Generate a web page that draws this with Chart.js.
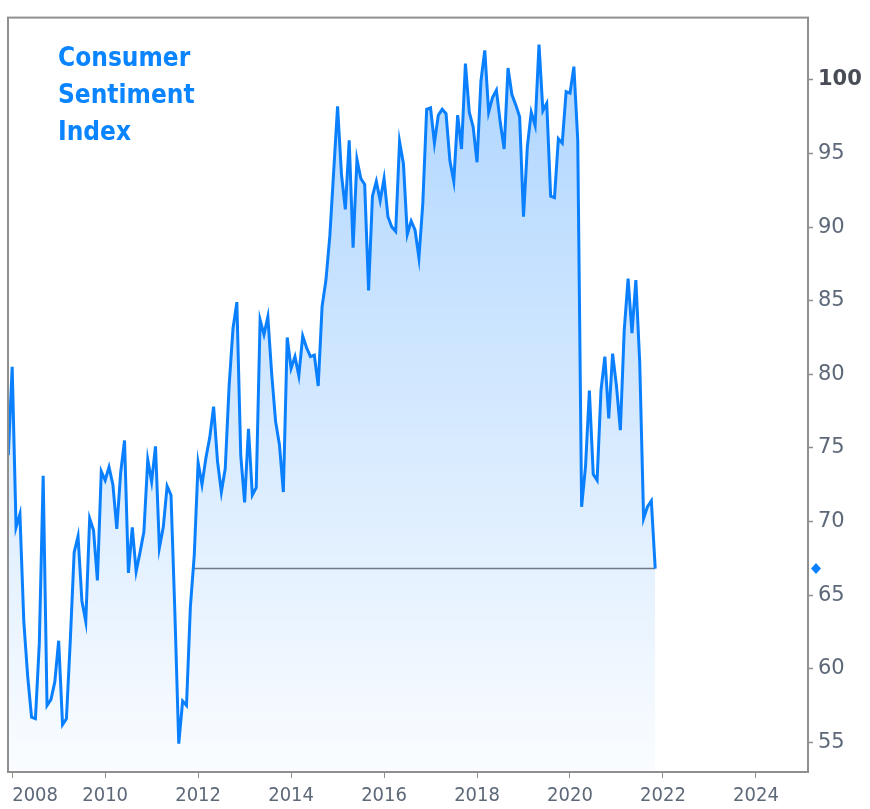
<!DOCTYPE html>
<html lang="en">
<head>
  <meta charset="UTF-8" />
  <title>Consumer Sentiment Index</title>
  <script src="https://cdn.jsdelivr.net/npm/chart.js"></script>
  <style>
    body {
      margin: 0;
      background: #ffffff;
    }

    .wrap {
      position: relative;
      width: 870px;
      height: 809px;
    }

    .title {
      position: absolute;
      left: 58px;
      top: 39px;
      color: #0a84ff;
      font: bold 26px/37px 'DejaVu Sans Condensed', 'DejaVu Sans', sans-serif;
    }
  </style>
</head>
<body>

  <div class="wrap">
    <canvas id="sentimentChart" width="870" height="809"></canvas>
    <div class="title">Consumer<br>Sentiment<br>Index</div>
  </div>

  <script>
    // monthly preliminary readings, Dec 2007 .. Nov 2021
    const firstMonth = { year: 2007, month: 12 };
    const sentiment = [
      74.5,
      80.5, 69.6, 70.5, 63.2, 59.5, 56.7, 56.6, 61.7, 73.1, 57.5, 57.9, 59.1,   // 2008
      61.9, 56.2, 56.6, 61.9, 67.9, 69.0, 64.6, 63.2, 70.2, 69.4, 66.0, 73.4,   // 2009
      72.8, 73.7, 72.5, 69.5, 73.3, 75.5, 66.5, 69.6, 66.6, 67.9, 69.3, 74.2,   // 2010
      72.7, 75.1, 68.2, 69.6, 72.4, 71.8, 63.8, 54.9, 57.8, 57.5, 64.2, 67.7,   // 2011
      74.0, 72.5, 74.3, 75.7, 77.8, 74.1, 72.0, 73.6, 79.2, 83.1, 84.9, 74.5,   // 2012
      71.3, 76.3, 71.8, 72.3, 83.7, 82.7, 83.9, 80.0, 76.8, 75.2, 72.0, 82.5,   // 2013
      80.4, 81.2, 79.9, 82.6, 81.8, 81.2, 81.3, 79.2, 84.6, 86.4, 89.4, 93.8,   // 2014
      98.2, 93.6, 91.2, 95.9, 88.6, 94.6, 93.3, 92.9, 85.7, 92.1, 93.1, 91.8,   // 2015
      93.3, 90.7, 90.0, 89.7, 95.8, 94.3, 89.5, 90.4, 89.8, 87.9, 91.6, 98.0,   // 2016
      98.1, 95.7, 97.6, 98.0, 97.7, 94.5, 93.1, 97.6, 95.3, 101.1, 97.8, 96.8,  // 2017
      94.4, 99.9, 102.0, 97.8, 98.8, 99.3, 97.1, 95.3, 100.8, 99.0, 98.3, 97.5, // 2018
      90.7, 95.5, 97.8, 96.9, 102.4, 97.9, 98.4, 92.1, 92.0, 96.0, 95.7, 99.2,  // 2019
      99.1, 100.9, 95.9, 71.0, 73.7, 78.9, 73.2, 72.8, 78.9, 81.2, 77.0, 81.4,  // 2020
      79.2, 76.2, 83.0, 86.5, 82.8, 86.4, 80.8, 70.2, 71.0, 71.4, 66.8          // 2021
    ];

    const yearTicks = [2008, 2010, 2012, 2014, 2016, 2018, 2020, 2022, 2024];
    const valueTicks = [55, 60, 65, 70, 75, 80, 85, 90, 95, 100];

    const xMin = 2007.91;
    const xMax = 2025.12;
    const yMin = 52.98;
    const yMax = 104.23;

    const lineBlue = '#0a80ff';
    const frameGrey = '#8f8f8f';
    const labelGrey = '#5d6878';

    const points = sentiment.map((v, i) => ({
      x: firstMonth.year + (firstMonth.month - 1 + i) / 12,
      y: v
    }));

    // flat reference line at the latest reading, back to where the index last crossed it
    const last = points[points.length - 1];
    let j = points.length - 2;
    while (j > 0 && points[j].y >= last.y) j--;
    const a = points[j], b = points[j + 1];
    const crossX = a.x + (last.y - a.y) / (b.y - a.y) * (b.x - a.x);
    const refLine = [{ x: crossX, y: last.y }, { x: last.x, y: last.y }];

    const framePlugin = {
      id: 'frame',
      afterDraw(chart) {
        const { ctx, chartArea } = chart;
        ctx.save();
        ctx.strokeStyle = frameGrey;
        ctx.lineWidth = 2;
        ctx.strokeRect(chartArea.left, chartArea.top,
          chartArea.right - chartArea.left, chartArea.bottom - chartArea.top);

        // diamond marker for the latest value on the right axis
        const y = chart.scales.y.getPixelForValue(last.y);
        const x = chartArea.right + 8;
        ctx.fillStyle = lineBlue;
        ctx.beginPath();
        ctx.moveTo(x, y - 5.5);
        ctx.lineTo(x + 5, y);
        ctx.lineTo(x, y + 5.5);
        ctx.lineTo(x - 5, y);
        ctx.closePath();
        ctx.fill();
        ctx.restore();
      }
    };

    new Chart(document.getElementById('sentimentChart'), {
      type: 'line',
      data: {
        datasets: [{
          label: 'Consumer Sentiment Index',
          data: points,
          borderColor: lineBlue,
          borderWidth: 3,
          pointRadius: 0,
          tension: 0,
          fill: 'start',
          backgroundColor: function(context) {
            const { chart } = context;
            const area = chart.chartArea;
            if (!area) return 'rgba(10,128,255,0.15)';
            const g = chart.ctx.createLinearGradient(0, area.top, 0, area.bottom);
            g.addColorStop(0, 'rgba(10,128,255,0.34)');
            g.addColorStop(1, 'rgba(10,128,255,0.02)');
            return g;
          }
        }, {
          label: 'Latest',
          data: refLine,
          borderColor: '#7a7a7a',
          borderWidth: 1.5,
          pointRadius: 0,
          fill: false
        }]
      },
      options: {
        responsive: false,
        animation: false,
        devicePixelRatio: 1,
        layout: {
          padding: { left: 8, top: 8 }
        },
        plugins: {
          legend: { display: false },
          tooltip: { enabled: false }
        },
        scales: {
          x: {
            type: 'linear',
            min: xMin,
            max: xMax,
            afterBuildTicks: function(scale) {
              scale.ticks = yearTicks.concat([xMax]).map(v => ({ value: v }));
            },
            afterFit: function(scale) {
              scale.height = 37;
              scale.paddingLeft = 0;
              scale.paddingRight = 0;
            },
            border: { display: false },
            grid: {
              drawOnChartArea: false,
              drawTicks: true,
              tickLength: 9,
              tickWidth: 1,
              tickBorderDash: [6, 100],
              tickColor: function(c) {
                return c.tick && c.tick.value === xMax ? 'rgba(0,0,0,0)' : frameGrey;
              }
            },
            ticks: {
              autoSkip: false,
              maxRotation: 0,
              align: 'inner',
              padding: 3,
              color: labelGrey,
              font: { family: "'DejaVu Sans Condensed', 'DejaVu Sans', sans-serif", size: 20 },
              callback: function(value) {
                return value === xMax ? '' : String(value);
              }
            }
          },
          y: {
            type: 'linear',
            position: 'right',
            min: yMin,
            max: yMax,
            afterBuildTicks: function(scale) {
              scale.ticks = valueTicks.map(v => ({ value: v }));
            },
            afterFit: function(scale) {
              scale.width = 62;
            },
            border: { display: false },
            grid: {
              drawOnChartArea: false,
              drawTicks: true,
              tickLength: 5,
              tickWidth: 1.5,
              tickColor: frameGrey
            },
            ticks: {
              padding: 5,
              color: function(c) {
                return c.tick && c.tick.value === 100 ? '#474c55' : labelGrey;
              },
              font: function(c) {
                const bold = c.tick && c.tick.value === 100;
                return { family: "'DejaVu Sans', sans-serif", size: 21, weight: bold ? 'bold' : 'normal' };
              }
            }
          }
        }
      },
      plugins: [framePlugin]
    });
  </script>

</body>
</html>
